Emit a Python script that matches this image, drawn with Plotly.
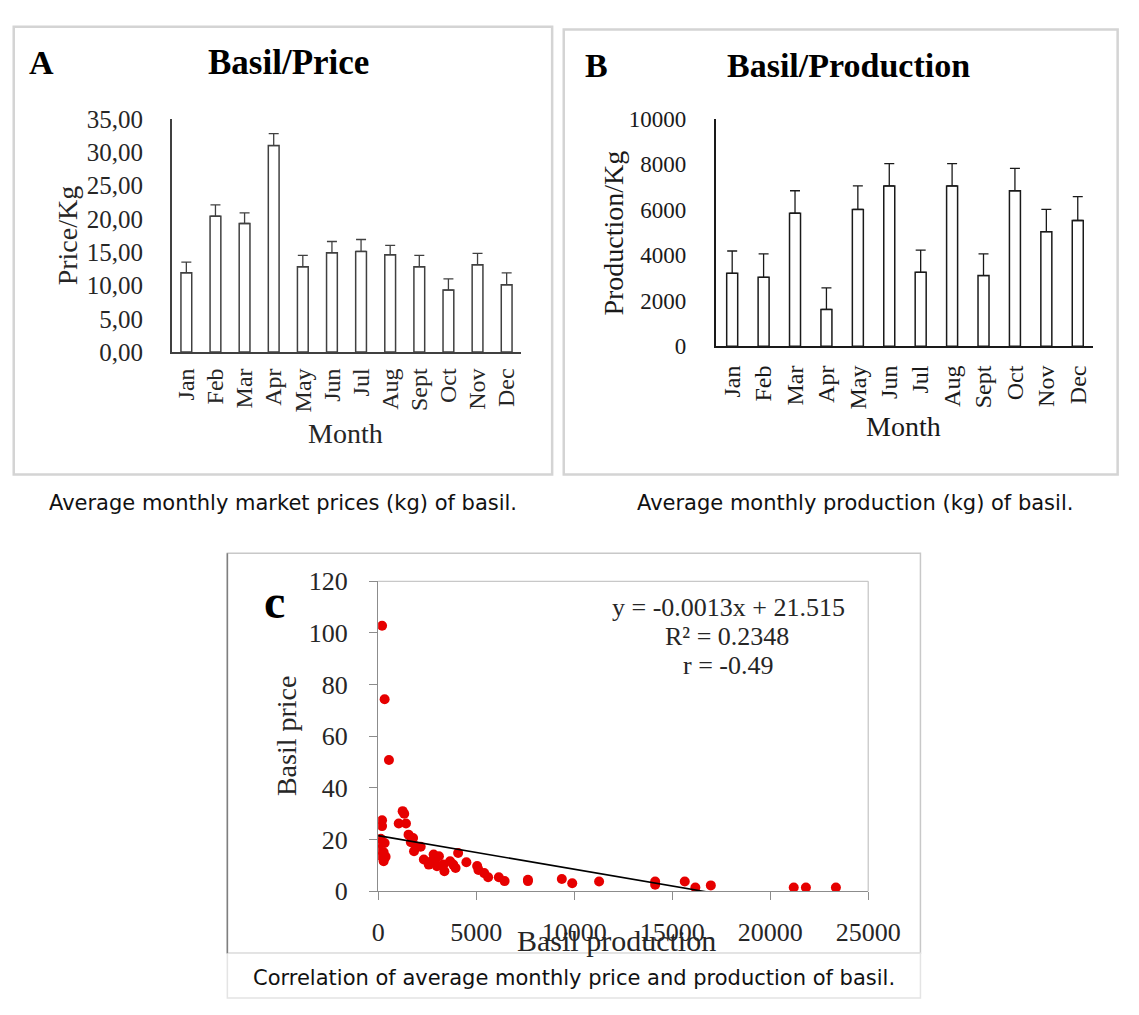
import plotly.graph_objects as go

W, H = 1139, 1015


def fx(px):
    return px / W


def fy(py):
    return 1 - py / H


# ---------------- data ----------------
months = ["Jan", "Feb", "Mar", "Apr", "May", "Jun", "Jul", "Aug", "Sept", "Oct", "Nov", "Dec"]

price = [11.9, 20.4, 19.3, 31.0, 12.8, 14.9, 15.1, 14.6, 12.8, 9.3, 13.1, 10.1]
price_err = [1.6, 1.7, 1.6, 1.8, 1.7, 1.7, 1.8, 1.4, 1.7, 1.7, 1.7, 1.8]
price_tickvals = [0, 5, 10, 15, 20, 25, 30, 35]
price_ticktext = ["0,00", "5,00", "10,00", "15,00", "20,00", "25,00", "30,00", "35,00"]

production = [3205, 3030, 5850, 1620, 6020, 7050, 3250, 7050, 3110, 6840, 5040, 5530]
production_err = [985, 1030, 990, 950, 1030, 980, 980, 980, 950, 980, 980, 1050]
production_tickvals = [0, 2000, 4000, 6000, 8000, 10000]

basil_production = [
    200, 330, 550,
    200, 200, 1250, 1330, 1050, 1420,
    130, 80, 330, 50, 280, 170, 380, 280,
    1550, 1780, 1670, 1920, 2170, 1830,
    2330, 2580, 2700, 2830, 2920, 3000, 3100, 3330, 3380, 3670, 3830, 3950, 4080, 4500,
    5050, 5115, 5410, 5610, 6155, 6450, 7640, 7640, 9370, 9900, 11270,
    14130, 14130, 15640, 16180, 16970, 21200, 21820, 23350,
]
basil_price = [
    102.8, 74.3, 50.8,
    27.5, 25.2, 31.0, 30.0, 26.2, 26.2,
    20.3, 18.7, 18.7, 16.1, 15.1, 13.5, 13.3, 11.6,
    21.9, 20.6, 19.0, 17.4, 17.2, 15.5,
    12.3, 10.3, 11.5, 14.2, 12.3, 9.7, 13.5, 10.3, 7.7, 11.6, 10.3, 9.0, 14.8, 11.2,
    9.75, 8.25, 7.0, 5.4, 5.4, 3.9, 4.4, 3.9, 4.75, 3.1, 3.75,
    3.75, 2.5, 3.75, 1.4, 2.25, 1.4, 1.4, 1.4,
]
trend_slope = -0.0013
trend_intercept = 21.515
trend_x = [0, max(basil_production)]
trend_y = [trend_slope * v + trend_intercept for v in trend_x]

c_xticks = [0, 5000, 10000, 15000, 20000, 25000]
c_yticks = [0, 20, 40, 60, 80, 100, 120]

# ---------------- styling ----------------
SERIF = "Liberation Serif, Times New Roman, serif"
SANS = "DejaVu Sans, Verdana, sans-serif"
DARK = "#404040"
TXT = "#262626"

fig = go.Figure()

fig.add_trace(go.Bar(
    x=months, y=price, xaxis="x", yaxis="y", width=0.37,
    marker=dict(color="white", line=dict(color=DARK, width=1.5)),
    error_y=dict(type="data", symmetric=False, array=price_err,
                 arrayminus=[0] * len(price_err), color=DARK, thickness=1.3, width=5),
    showlegend=False, hoverinfo="x+y",
))

fig.add_trace(go.Bar(
    x=months, y=production, xaxis="x2", yaxis="y2", width=0.35,
    marker=dict(color="white", line=dict(color="#1a1a1a", width=1.5)),
    error_y=dict(type="data", symmetric=False, array=production_err,
                 arrayminus=[0] * len(production_err), color="#1a1a1a", thickness=1.3, width=5),
    showlegend=False, hoverinfo="x+y",
))

fig.add_trace(go.Scatter(
    x=basil_production, y=basil_price, xaxis="x3", yaxis="y3", mode="markers",
    marker=dict(color="#e60000", size=10, line=dict(width=0)),
    showlegend=False,
))

fig.add_trace(go.Scatter(
    x=trend_x, y=trend_y, xaxis="x3", yaxis="y3", mode="lines",
    line=dict(color="black", width=1.6), showlegend=False, hoverinfo="skip",
))

fig.update_layout(
    width=W, height=H,
    margin=dict(l=0, r=0, t=0, b=0),
    paper_bgcolor="white", plot_bgcolor="white",
    showlegend=False,
    xaxis=dict(domain=[fx(171.5), fx(533)], anchor="y", range=[-0.5, 11.5],
               showline=True, linecolor=DARK, linewidth=1.5, ticks="",
               tickangle=-90, tickfont=dict(family=SERIF, size=24, color=TXT),
               showgrid=False, zeroline=False, ticklabelstandoff=5),
    yaxis=dict(domain=[fy(348), fy(108)], anchor="x", range=[0, 35],
               tickvals=price_tickvals, ticktext=price_ticktext,
               showline=True, linecolor=DARK, linewidth=1.5, ticks="",
               tickfont=dict(family=SERIF, size=25, color=TXT),
               showgrid=False, zeroline=False, ticklabelstandoff=22),
    xaxis2=dict(domain=[fx(735), fx(1125)], anchor="y2", range=[-0.5, 11.5],
                showline=True, linecolor="#1a1a1a", linewidth=1.5, ticks="",
                tickangle=-90, tickfont=dict(family=SERIF, size=24, color="#1a1a1a"),
                showgrid=False, zeroline=False, ticklabelstandoff=8),
    yaxis2=dict(domain=[fy(342), fy(108)], anchor="x2", range=[0, 10000],
                tickvals=production_tickvals, tickformat="d",
                showline=True, linecolor="#1a1a1a", linewidth=1.5, ticks="",
                tickfont=dict(family=SERIF, size=23, color="#1a1a1a"),
                showgrid=False, zeroline=False, ticklabelstandoff=24),
    xaxis3=dict(domain=[fx(385), fx(892)], anchor="y3", range=[0, 25000],
                tickvals=c_xticks, tickformat="d",
                showline=True, linecolor="#8c8c8c", linewidth=1.3,
                ticks="outside", ticklen=8, tickcolor="#8c8c8c",
                tickfont=dict(family=SERIF, size=26, color=TXT),
                showgrid=False, zeroline=False, ticklabelstandoff=9),
    yaxis3=dict(domain=[fy(903), fy(584)], anchor="x3", range=[0, 120],
                tickvals=c_yticks, showline=True, linecolor="#8c8c8c", linewidth=1.3,
                ticks="outside", ticklen=8, tickcolor="#8c8c8c",
                tickfont=dict(family=SERIF, size=26, color=TXT),
                showgrid=False, zeroline=False, ticklabelstandoff=16),
)

# ---------------- frames ----------------
shapes = []


def rect(x0, y0, x1, y1, color, width=2):
    shapes.append(dict(type="rect", xref="paper", yref="paper",
                       x0=fx(x0), x1=fx(x1), y0=fy(y1), y1=fy(y0),
                       line=dict(color=color, width=width), fillcolor="rgba(0,0,0,0)",
                       layer="below"))


def line(x0, y0, x1, y1, color, width=1.5):
    shapes.append(dict(type="line", xref="paper", yref="paper",
                       x0=fx(x0), x1=fx(x1), y0=fy(y0), y1=fy(y1),
                       line=dict(color=color, width=width)))


rect(8, 13, 565, 474, "#d4d4d4", 2.5)
rect(577, 16, 1150, 474, "#d4d4d4", 2.5)
rect(229, 555, 946, 967, "#c8c8c8", 1.5)
rect(229, 967, 946, 1013, "#e4e4e4", 1.5)
line(229, 555, 229, 967, "#7f7f7f", 1.5)
# plot-area border of panel C (top and right)
line(385, 584, 892, 584, "#c8c8c8", 1.3)
line(892, 584, 892, 903, "#c8c8c8", 1.3)

fig.update_layout(shapes=shapes)

# ---------------- text ----------------
ann = []


def text(s, x, y, size, family=SERIF, bold=False, color="black", angle=0):
    ann.append(dict(text=("<b>%s</b>" % s) if bold else s, xref="paper", yref="paper",
                    x=fx(x), y=fy(y), xanchor="center", yanchor="middle",
                    showarrow=False, textangle=angle,
                    font=dict(family=family, size=size, color=color)))


# Panel A
text("A", 37, 50, 34, bold=True)
text("Basil/Price", 292, 50, 35, bold=True)
text("Price/Kg", 64, 228, 28, color=TXT, angle=-90)
text("Month", 351, 432, 28, color=TXT)
# Panel B
text("B", 611, 53, 34, bold=True)
text("Basil/Production", 872, 53, 34, bold=True)
text("Production/Kg", 628, 226, 28, color="#1a1a1a", angle=-90)
text("Month", 928, 425, 28, color="#1a1a1a")
# Panel C
text("c", 278, 605, 48, bold=True)
text("y = -0.0013x + 21.515", 747, 611, 26, color=TXT)
text("R² = 0.2348", 746, 641, 26, color=TXT)
text("r = -0.49", 747, 671, 26, color=TXT)
text("Basil price", 290, 743, 28, color=TXT, angle=-90)
text("Basil production", 632, 954, 30, color=TXT)
# Captions
text("Average monthly market prices (kg) of basil.", 287, 503, 21, family=SANS, color="#111111")
text("Average monthly production (kg) of basil.", 878, 503, 21, family=SANS, color="#111111")
text("Correlation of average monthly price and production of basil.", 588, 992, 21, family=SANS, color="#111111")

fig.update_layout(annotations=ann)

fig.write_html("out.html")
